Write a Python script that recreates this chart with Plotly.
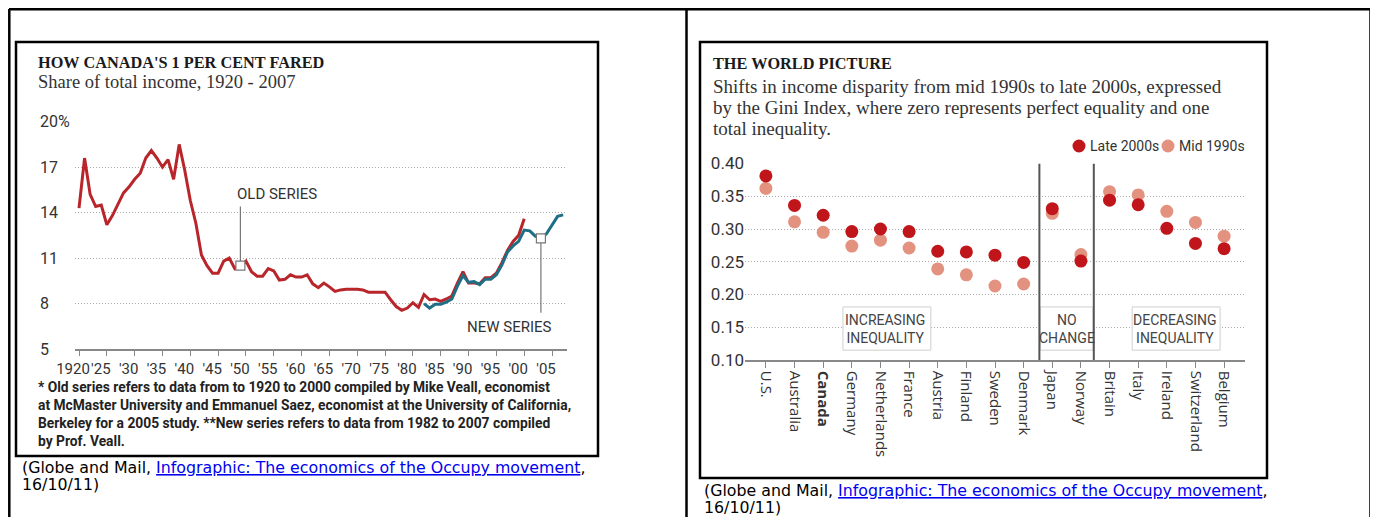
import plotly.graph_objects as go

# page is 1378x517; the html body adds an 8px margin, so the figure is drawn 8px in
W, H = 1378, 517
OX, OY = 8, 8
FW, FH = W - OX, H - OY

# ---- left chart: Canada's top 1% share of income ----
years_old = list(range(1920, 2001))
share_old = [14.3, 17.6, 15.2, 14.4, 14.5, 13.2, 13.8, 14.6, 15.3, 15.7,
             16.2, 16.6, 17.6, 18.1, 17.6, 17.0, 17.5, 16.2, 18.5, 16.8,
             14.8, 13.3, 11.2, 10.5, 10.0, 10.0, 10.8, 11.0, 10.3, 10.5,
             10.8, 10.1, 9.8, 9.8, 10.3, 10.15, 9.55, 9.6, 9.9, 9.75,
             9.75, 9.9, 9.3, 9.05, 9.35, 9.1, 8.8, 8.9, 8.95, 8.95,
             8.95, 8.9, 8.75, 8.75, 8.75, 8.75, 8.25, 7.8, 7.55, 7.7,
             8.05, 7.75, 8.6, 8.25, 8.3, 8.15, 8.3, 8.5, 9.35, 10.1,
             9.35, 9.35, 9.3, 9.7, 9.7, 10.0, 10.7, 11.5, 12.1, 12.5, 13.6]
years_new = list(range(1982, 2008))
share_new = [8.0, 7.7, 7.95, 7.95, 8.1, 8.3, 9.15, 9.85, 9.4, 9.45,
             9.25, 9.6, 9.6, 9.9, 10.55, 11.4, 11.8, 12.1, 12.85, 12.8,
             12.45, 12.3, 12.6, 13.2, 13.75, 13.85]
year_ticks = list(range(1920, 2006, 5))
year_labels = ["1920"] + ["'%02d" % (y % 100) for y in year_ticks[1:]]
share_ticks = [20, 17, 14, 11, 8, 5]
share_labels = ["20%", "17", "14", "11", "8", "5"]
old_mark_year, new_mark_year = 1949, 2003

# ---- right chart: Gini index ----
countries = ["U.S.", "Australia", "Canada", "Germany", "Netherlands", "France",
             "Austria", "Finland", "Sweden", "Denmark", "Japan", "Norway",
             "Britain", "Italy", "Ireland", "Switzerland", "Belgium"]
gini_late = [0.381, 0.336, 0.321, 0.296, 0.300, 0.296, 0.266, 0.265, 0.260, 0.249,
             0.331, 0.251, 0.344, 0.337, 0.301, 0.278, 0.270]
gini_mid = [0.362, 0.311, 0.295, 0.274, 0.283, 0.271, 0.239, 0.230, 0.213, 0.216,
            0.324, 0.261, 0.357, 0.352, 0.327, 0.310, 0.289]
gini_ticks = [0.10, 0.15, 0.20, 0.25, 0.30, 0.35, 0.40]

RED_LINE, TEAL = "#b8262b", "#1e6e86"
LATE, MID = "#c0161b", "#e3927f"
SERIF = "Liberation Serif"
NARROW = "Liberation Sans Narrow, Roboto"
TXT = "#2a2a2a"


def px(x):
    return (x - OX) / FW


def py(y):
    return 1 - (y - OY) / FH


fig = go.Figure()

fig.add_trace(go.Scatter(x=years_old, y=share_old, mode="lines", showlegend=False,
                         line=dict(color=RED_LINE, width=3), xaxis="x", yaxis="y",
                         hoverinfo="skip"))
fig.add_trace(go.Scatter(x=years_new, y=share_new, mode="lines", showlegend=False,
                         line=dict(color=TEAL, width=3), xaxis="x", yaxis="y",
                         hoverinfo="skip"))
old_v = share_old[years_old.index(old_mark_year)]
new_v = share_new[years_new.index(new_mark_year)]
fig.add_trace(go.Scatter(x=[old_mark_year, new_mark_year], y=[old_v, new_v], mode="markers",
                         showlegend=False, xaxis="x", yaxis="y", hoverinfo="skip",
                         marker=dict(symbol="square", size=9, color="white",
                                     line=dict(color="#777", width=1.2))))

# mid drawn first so late dots sit on top
fig.add_trace(go.Scatter(x=countries, y=gini_mid, mode="markers", name="Mid 1990s",
                         showlegend=False, xaxis="x2", yaxis="y2",
                         marker=dict(color=MID, size=13)))
fig.add_trace(go.Scatter(x=countries, y=gini_late, mode="markers", name="Late 2000s",
                         showlegend=False, xaxis="x2", yaxis="y2",
                         marker=dict(color=LATE, size=13)))

frame = dict(color="black", width=2.5)
shapes = [
    # page table frame
    dict(type="line", xref="paper", yref="paper", x0=px(9), x1=px(1371), y0=py(9.2), y1=py(9.2)),
    dict(type="line", xref="paper", yref="paper", x0=px(9.3), x1=px(9.3), y0=py(9), y1=0),
    dict(type="line", xref="paper", yref="paper", x0=px(686.5), x1=px(686.5), y0=py(9), y1=0),
    dict(type="line", xref="paper", yref="paper", x0=px(1370.5), x1=px(1370.5), y0=py(9), y1=0),
    # image frames
    dict(type="rect", xref="paper", yref="paper", x0=px(16), x1=px(598), y0=py(42), y1=py(456)),
    dict(type="rect", xref="paper", yref="paper", x0=px(700), x1=px(1267), y0=py(42), y1=py(478)),
]
for s in shapes:
    s["line"] = frame

# series pointers
shapes += [
    dict(type="line", xref="x", yref="y", x0=old_mark_year, x1=old_mark_year,
         y0=old_v + 0.3, y1=14.4, line=dict(color="#777", width=1.2)),
    dict(type="line", xref="x", yref="y", x0=new_mark_year, x1=new_mark_year,
         y0=new_v - 0.3, y1=7.4, line=dict(color="#777", width=1.2)),
]
# group boxes and dividers on the Gini chart
box = dict(fillcolor="white", line=dict(color="#cfcfcf", width=1), layer="above")
for x0, x1 in ((2.69, 5.76), (9.58, 11.42), (12.79, 15.86)):
    shapes.append(dict(type="rect", xref="x2", yref="y2", x0=x0, x1=x1, y0=0.115, y1=0.181, **box))
for xd in (9.55, 11.45):
    shapes.append(dict(type="line", xref="x2", yref="y2", x0=xd, x1=xd, y0=0.10, y1=0.40,
                       line=dict(color="#555", width=2), layer="above"))
# legend dots
for cx, col in ((1079, LATE), (1168, MID)):
    shapes.append(dict(type="circle", xref="paper", yref="paper", x0=px(cx - 6.5), x1=px(cx + 6.5),
                       y0=py(146 + 6.5), y1=py(146 - 6.5), fillcolor=col, line=dict(width=0)))

ann = []


def note(x, y, text, size, family, color=TXT, anchor="left", yanchor="middle", xref="paper",
         yref="paper", align="left"):
    ann.append(dict(x=x, y=y, xref=xref, yref=yref, text=text, showarrow=False,
                    xanchor=anchor, yanchor=yanchor, align=align,
                    font=dict(size=size, family=family, color=color)))


note(px(36), py(62), "<b>HOW CANADA'S 1 PER CENT FARED</b>", 16.3, SERIF, "#1a1a1a")
note(px(36), py(82), "Share of total income, 1920 - 2007", 18.5, SERIF, "#333")
for v, lab in zip(share_ticks, share_labels):
    note(px(38), v, lab, 16, NARROW, "#333", yref="y")
note(1948.1, 15.23, "OLD SERIES", 15, NARROW, "#333", xref="x", yref="y")
note(2005.4, 6.45, "NEW SERIES", 15, NARROW, "#333", anchor="right", xref="x", yref="y")
note(px(36), py(377),
     "<b>* Old series refers to data from to 1920 to 2000 compiled by Mike Veall, economist<br>"
     "at McMaster University and Emmanuel Saez, economist at the University of California,<br>"
     "Berkeley for a 2005 study. **New series refers to data from 1982 to 2007 compiled<br>"
     "by Prof. Veall.</b>", 13.8, NARROW, "#222", yanchor="top")

note(px(711), py(63), "<b>THE WORLD PICTURE</b>", 16.3, SERIF, "#1a1a1a")
sub_lines = ["Shifts in income disparity from mid 1990s to late 2000s, expressed",
             "by the Gini Index, where zero represents perfect equality and one",
             "total inequality."]
for i, line in enumerate(sub_lines):
    note(px(711), py(86 + 21 * i), line, 19, SERIF, "#333")
note(px(1088), py(146), "Late 2000s", 14, NARROW, "#333")
note(px(1177), py(146), "Mid 1990s", 14, NARROW, "#333")
note(4.15, 0.148, "INCREASING<br>INEQUALITY", 14, NARROW, "#444", anchor="center",
     xref="x2", yref="y2", align="center")
note(10.5, 0.148, "NO<br>CHANGE", 14, NARROW, "#444", anchor="center",
     xref="x2", yref="y2", align="center")
note(14.28, 0.148, "DECREASING<br>INEQUALITY", 14, NARROW, "#444", anchor="center",
     xref="x2", yref="y2", align="center")

link = ("(Globe and Mail, <a href='https://www.theglobeandmail.com/'>"
        "<span style='color:#0000ee'><u>Infographic: The economics of the Occupy movement</u>"
        "</span></a>,")
for cx, cy in ((20, 467), (702, 490)):
    note(px(cx), py(cy), link, 15.8, "DejaVu Sans", "black")
    note(px(cx), py(cy + 17), "16/10/11)", 15.8, "DejaVu Sans", "black")

grid = dict(showgrid=True, gridcolor="#aaaaaa", griddash="1px,2px", gridwidth=1,
            zeroline=False, automargin=False)

fig.update_layout(
    width=FW, height=FH, margin=dict(l=0, r=0, t=0, b=0, autoexpand=False),
    paper_bgcolor="white", plot_bgcolor="white", showlegend=False,
    shapes=shapes, annotations=ann,
    xaxis=dict(domain=[px(75), px(567)], range=[1919.28, 2007.69], anchor="y",
               tickvals=year_ticks, ticktext=year_labels, tickangle=0, ticks="outside",
               ticklen=5, tickcolor="#888", showline=True, linecolor="#888", linewidth=1.5,
               showgrid=False, zeroline=False, automargin=False, ticklabelshift=-6,
               tickfont=dict(size=15, family=NARROW, color="#333")),
    yaxis=dict(domain=[py(349), py(121.7)], range=[5, 20], anchor="x",
               tickvals=share_ticks[:-1], showticklabels=False, **grid),
    xaxis2=dict(domain=[px(745), px(1245)], range=[-0.73, 16.73], anchor="y2",
                tickvals=countries,
                ticktext=["<b>%s</b>" % c if c == "Canada" else c for c in countries],
                tickangle=90, ticks="outside", ticklen=6, tickcolor="#888",
                showline=True, linecolor="#888", linewidth=1.5, showgrid=False,
                zeroline=False, automargin=False,
                tickfont=dict(size=15, family="Open Sans", color="#333")),
    yaxis2=dict(domain=[py(360), py(163.5)], range=[0.10, 0.40], anchor="x2",
                tickvals=gini_ticks, ticktext=["%.2f" % t for t in gini_ticks],
                tickfont=dict(size=17, family="Roboto", color="#333"), **grid),
)

fig.write_html("out.html")
